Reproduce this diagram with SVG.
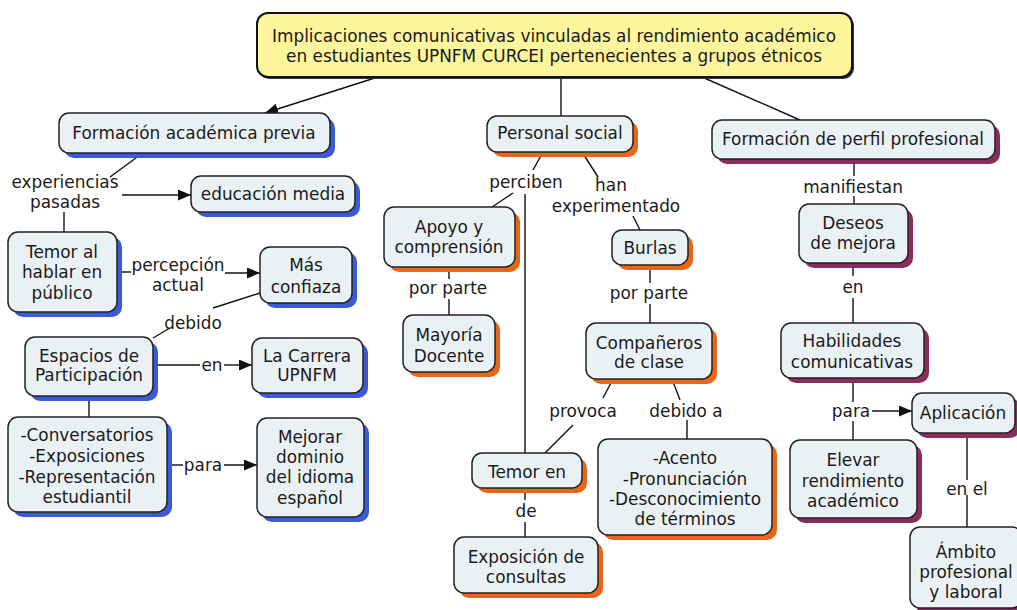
<svg xmlns="http://www.w3.org/2000/svg" width="1017" height="610" viewBox="0 0 1017 610">
<style>
text{font-family:"DejaVu Sans","Verdana",sans-serif;font-size:16.9px;fill:#1a1a1a;text-anchor:middle}
.box{fill:#eaf1f5;stroke:#222;stroke-width:1.5}
.sb{fill:#3a5ad8}
.so{fill:#e8661a}
.sm{fill:#8a2c5c}
.title{fill:#fcf59c;stroke:#111;stroke-width:2}
.c{stroke:#111;stroke-width:1.4;fill:none}
</style>
<defs>
<marker id="ah" markerUnits="userSpaceOnUse" markerWidth="13" markerHeight="11" refX="13" refY="5.5" orient="auto">
<path d="M0,0 L13,5.5 L0,11 z" fill="#111"/>
</marker>
</defs>
<rect width="1017" height="610" fill="#fff"/>
<g id="connectors">
<line class="c" x1="378" y1="77" x2="265" y2="113" marker-end="url(#ah)"/>
<line class="c" x1="561" y1="77" x2="561" y2="116"/>
<line class="c" x1="702" y1="77" x2="800" y2="120"/>
<line class="c" x1="140" y1="155" x2="110" y2="177"/>
<line class="c" x1="122" y1="195" x2="191" y2="195" marker-end="url(#ah)"/>
<line class="c" x1="64" y1="212" x2="64" y2="232"/>
<line class="c" x1="117" y1="272" x2="131" y2="272"/>
<line class="c" x1="225" y1="273" x2="260" y2="273" marker-end="url(#ah)"/>
<line class="c" x1="260" y1="293" x2="213" y2="308"/>
<line class="c" x1="170" y1="328" x2="153" y2="338"/>
<line class="c" x1="153" y1="365" x2="200" y2="365"/>
<line class="c" x1="224" y1="365" x2="252" y2="365" marker-end="url(#ah)"/>
<line class="c" x1="89" y1="396" x2="89" y2="417"/>
<line class="c" x1="167" y1="465" x2="183" y2="465"/>
<line class="c" x1="224" y1="465" x2="257" y2="465" marker-end="url(#ah)"/>
<line class="c" x1="543" y1="152" x2="533" y2="170"/>
<line class="c" x1="513" y1="193" x2="492" y2="207"/>
<line class="c" x1="525" y1="194" x2="525" y2="453"/>
<line class="c" x1="582" y1="152" x2="598" y2="177"/>
<line class="c" x1="633" y1="216" x2="640" y2="230"/>
<line class="c" x1="449" y1="267" x2="449" y2="279"/>
<line class="c" x1="449" y1="299" x2="449" y2="315"/>
<line class="c" x1="650" y1="265" x2="650" y2="283"/>
<line class="c" x1="650" y1="304" x2="650" y2="323"/>
<line class="c" x1="613" y1="379" x2="603" y2="398"/>
<line class="c" x1="573" y1="425" x2="545" y2="453"/>
<line class="c" x1="672" y1="379" x2="680" y2="400"/>
<line class="c" x1="687" y1="420" x2="687" y2="439"/>
<line class="c" x1="525" y1="488" x2="525" y2="500"/>
<line class="c" x1="525" y1="522" x2="525" y2="537"/>
<line class="c" x1="854" y1="159" x2="854" y2="176"/>
<line class="c" x1="854" y1="196" x2="854" y2="204"/>
<line class="c" x1="853" y1="263" x2="853" y2="276"/>
<line class="c" x1="853" y1="298" x2="853" y2="323"/>
<line class="c" x1="853" y1="378" x2="853" y2="402"/>
<line class="c" x1="853" y1="421" x2="853" y2="440"/>
<line class="c" x1="872" y1="411" x2="912" y2="411" marker-end="url(#ah)"/>
<line class="c" x1="967" y1="433" x2="967" y2="480"/>
<line class="c" x1="967" y1="495" x2="967" y2="527"/>
</g>
<g id="labels">
<text x="65" y="188">experiencias</text>
<text x="65" y="208">pasadas</text>
<text x="178" y="271">percepción</text>
<text x="178" y="291">actual</text>
<text x="193" y="329">debido</text>
<text x="212" y="371">en</text>
<text x="203" y="471">para</text>
<text x="526" y="188">perciben</text>
<text x="611" y="191">han</text>
<text x="616" y="212">experimentado</text>
<text x="448" y="294">por parte</text>
<text x="649" y="299">por parte</text>
<text x="583" y="417">provoca</text>
<text x="686" y="417">debido a</text>
<text x="526" y="517">de</text>
<text x="853" y="193">manifiestan</text>
<text x="853" y="293">en</text>
<text x="851" y="417">para</text>
<text x="967" y="495">en el</text>
</g>
<g id="title">
<rect x="259" y="15" width="595" height="64" rx="11" fill="#333"/>
<rect class="title" x="257" y="13" width="595" height="64" rx="11"/>
<text x="554" y="42">Implicaciones comunicativas vinculadas al rendimiento académico</text>
<text x="554" y="62">en estudiantes UPNFM CURCEI pertenecientes a grupos étnicos</text>
</g>
<g id="n1"><rect class="sb" x="64" y="118" width="271" height="40" rx="10"/><rect class="box" x="59" y="113" width="271" height="40" rx="10"/><text x="194" y="139">Formación académica previa</text></g>
<g id="n2"><rect class="sb" x="196" y="181" width="164" height="36" rx="10"/><rect class="box" x="191" y="176" width="164" height="36" rx="10"/><text x="273" y="200">educación media</text></g>
<g id="n3"><rect class="sb" x="13" y="237" width="109" height="80" rx="10"/><rect class="box" x="8" y="232" width="109" height="80" rx="10"/><text x="62" y="258">Temor al</text><text x="62" y="278">hablar en</text><text x="62" y="299">público</text></g>
<g id="n4"><rect class="sb" x="265" y="252" width="92" height="56" rx="10"/><rect class="box" x="260" y="247" width="92" height="56" rx="10"/><text x="306" y="271">Más</text><text x="306" y="293">confiaza</text></g>
<g id="n5"><rect class="sb" x="30" y="342" width="128" height="59" rx="10"/><rect class="box" x="25" y="337" width="128" height="59" rx="10"/><text x="89" y="362">Espacios de</text><text x="89" y="381">Participación</text></g>
<g id="n6"><rect class="sb" x="257" y="343" width="111" height="55" rx="10"/><rect class="box" x="252" y="338" width="111" height="55" rx="10"/><text x="307" y="362">La Carrera</text><text x="307" y="381">UPNFM</text></g>
<g id="n7"><rect class="sb" x="13" y="422" width="159" height="95" rx="10"/><rect class="box" x="8" y="417" width="159" height="95" rx="10"/><text x="87" y="441">-Conversatorios</text><text x="87" y="462">-Exposiciones</text><text x="87" y="483">-Representación</text><text x="87" y="503">estudiantil</text></g>
<g id="n8"><rect class="sb" x="262" y="423" width="107" height="99" rx="10"/><rect class="box" x="257" y="418" width="107" height="99" rx="10"/><text x="310" y="443">Mejorar</text><text x="310" y="463">dominio</text><text x="310" y="483">del idioma</text><text x="310" y="504">español</text></g>
<g id="n9"><rect class="so" x="492" y="121" width="146" height="36" rx="10"/><rect class="box" x="487" y="116" width="146" height="36" rx="10"/><text x="560" y="139">Personal social</text></g>
<g id="n10"><rect class="so" x="389" y="212" width="131" height="60" rx="10"/><rect class="box" x="384" y="207" width="131" height="60" rx="10"/><text x="449" y="233">Apoyo y</text><text x="449" y="253">comprensión</text></g>
<g id="n11"><rect class="so" x="408" y="320" width="92" height="57" rx="10"/><rect class="box" x="403" y="315" width="92" height="57" rx="10"/><text x="449" y="341">Mayoría</text><text x="449" y="362">Docente</text></g>
<g id="n12"><rect class="so" x="617" y="235" width="76" height="35" rx="10"/><rect class="box" x="612" y="230" width="76" height="35" rx="10"/><text x="650" y="254">Burlas</text></g>
<g id="n13"><rect class="so" x="591" y="328" width="126" height="56" rx="10"/><rect class="box" x="586" y="323" width="126" height="56" rx="10"/><text x="649" y="349">Compañeros</text><text x="649" y="368">de clase</text></g>
<g id="n14"><rect class="so" x="477" y="458" width="110" height="35" rx="10"/><rect class="box" x="472" y="453" width="110" height="35" rx="10"/><text x="527" y="478">Temor en</text></g>
<g id="n15"><rect class="so" x="603" y="444" width="174" height="96" rx="10"/><rect class="box" x="598" y="439" width="174" height="96" rx="10"/><text x="685" y="464">-Acento</text><text x="685" y="485">-Pronunciación</text><text x="685" y="505">-Desconocimiento</text><text x="685" y="525">de términos</text></g>
<g id="n16"><rect class="so" x="459" y="542" width="144" height="56" rx="10"/><rect class="box" x="454" y="537" width="144" height="56" rx="10"/><text x="526" y="563">Exposición de</text><text x="526" y="583">consultas</text></g>
<g id="n17"><rect class="sm" x="717" y="125" width="283" height="39" rx="10"/><rect class="box" x="712" y="120" width="283" height="39" rx="10"/><text x="853" y="145">Formación de perfil profesional</text></g>
<g id="n18"><rect class="sm" x="804" y="209" width="109" height="59" rx="10"/><rect class="box" x="799" y="204" width="109" height="59" rx="10"/><text x="853" y="229">Deseos</text><text x="853" y="249">de mejora</text></g>
<g id="n19"><rect class="sm" x="786" y="328" width="143" height="55" rx="10"/><rect class="box" x="781" y="323" width="143" height="55" rx="10"/><text x="852" y="347">Habilidades</text><text x="852" y="368">comunicativas</text></g>
<g id="n20"><rect class="sm" x="917" y="398" width="103" height="40" rx="10"/><rect class="box" x="912" y="393" width="103" height="40" rx="10"/><text x="963" y="419">Aplicación</text></g>
<g id="n21"><rect class="sm" x="795" y="445" width="127" height="78" rx="10"/><rect class="box" x="790" y="440" width="127" height="78" rx="10"/><text x="853" y="466">Elevar</text><text x="853" y="487">rendimiento</text><text x="853" y="507">académico</text></g>
<g id="n22"><rect class="sm" x="915" y="532" width="112" height="81" rx="10"/><rect class="box" x="910" y="527" width="112" height="81" rx="10"/><text x="966" y="558">Ámbito</text><text x="966" y="578">profesional</text><text x="966" y="598">y laboral</text></g>
</svg>
